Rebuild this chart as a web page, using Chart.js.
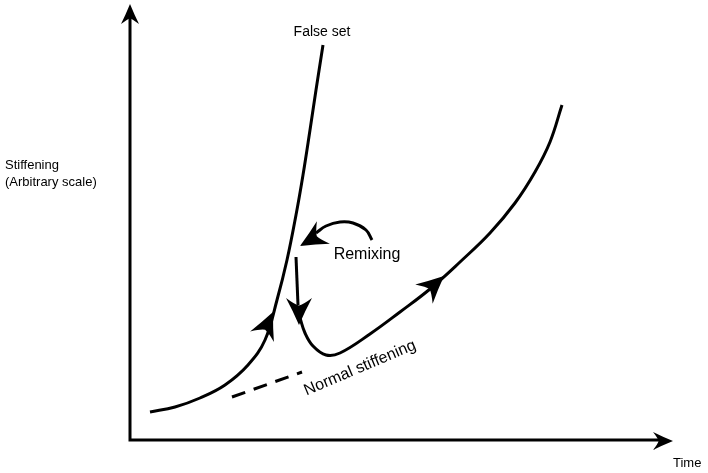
<!DOCTYPE html>
<html><head><meta charset="utf-8">
<script src="https://cdn.jsdelivr.net/npm/chart.js@4/dist/chart.umd.min.js"></script>
<style>html,body{margin:0;padding:0;background:#fff}#wrap{width:708px;height:473px;position:relative}</style>
</head><body><div id="wrap"><canvas id="c"></canvas></div>
<script>
// Arbitrary units (time on x, stiffening on y)
const axisX = [130, 130, 664];
const axisY = [458, 33, 33];
const falseSetX = [150, 175, 200, 225, 248, 265, 277, 287, 296, 303, 310, 316, 323];
const falseSetY = [61, 66, 75, 88, 108, 133, 173, 213, 258, 298, 343, 383, 428];
const dashX = [232, 302];
const dashY = [76, 101];
const dropX = [296, 298];
const dropY = [216, 168];
const normalX = [300, 305, 313, 326, 340, 370, 400, 430, 460, 490, 515, 535, 550, 562];
const normalY = [155, 140, 127, 118, 120, 139, 161, 184, 211, 240, 270, 301, 331, 368];
const remixX = [372, 366, 353, 340, 326, 316];
const remixY = [233, 243, 250, 251, 247, 240];
// arrow heads: tip position and direction (degrees, screen)
const arrowX = [130, 673, 273, 299, 300, 444];
const arrowY = [469, 32, 161, 148, 227, 197];
const arrowDir = [-90, 0, -66, 90, 150, -42];
const labels = ["False set", "Remixing", "Normal stiffening", "Stiffening", "(Arbitrary scale)", "Time"];
const labelX = [322, 367, 360, 5, 5, 673];
const labelY = [441, 218, 105, 308, 291, 10];

const pts = (xs, ys) => xs.map((x, i) => ({x, y: ys[i]}));
const base = {borderColor:'#000', pointRadius:0, fill:false, borderWidth:3};

const arrowPlugin = {
  id:'arrows',
  afterDatasetsDraw(chart){
    const {ctx, scales:{x, y}} = chart;
    ctx.save();
    ctx.fillStyle = '#000';
    arrowX.forEach((ax, i) => {
      const px = x.getPixelForValue(ax), py = y.getPixelForValue(arrowY[i]);
      const a = arrowDir[i] * Math.PI / 180;
      const L = i < 2 ? 20 : 27, W = i < 2 ? 9 : 13;
      ctx.save();
      ctx.translate(px, py); ctx.rotate(a);
      ctx.beginPath();
      ctx.moveTo(0, 0);
      ctx.quadraticCurveTo(-L*0.55, -W*0.5, -L, -W);
      ctx.quadraticCurveTo(-L*0.75, -W*0.3, -L*0.72, 0);
      ctx.quadraticCurveTo(-L*0.75, W*0.3, -L, W);
      ctx.quadraticCurveTo(-L*0.55, W*0.5, 0, 0);
      ctx.closePath(); ctx.fill();
      ctx.restore();
    });
    ctx.textBaseline = 'middle';
    const sizes = [14, 16, 16, 13, 13, 13];
    labels.forEach((t, i) => {
      const px = x.getPixelForValue(labelX[i]), py = y.getPixelForValue(labelY[i]);
      ctx.save();
      ctx.font = sizes[i] + 'px "Liberation Sans", Arial, sans-serif';
      ctx.translate(px, py);
      if (i === 2) { ctx.rotate(-23 * Math.PI / 180); ctx.textAlign = 'center'; }
      else if (i === 0 || i === 1) ctx.textAlign = 'center';
      else ctx.textAlign = 'left';
      ctx.fillText(t, 0, 0);
      ctx.restore();
    });
    ctx.restore();
  }
};

new Chart(document.getElementById('c'), {
  type:'line',
  data:{datasets:[
    {...base, data:pts(axisX, axisY), tension:0},
    {...base, data:pts(falseSetX, falseSetY), tension:0.4},
    {...base, data:pts(dashX, dashY), tension:0, borderDash:[14,9]},
    {...base, data:pts(dropX, dropY), tension:0},
    {...base, data:pts(normalX, normalY), tension:0.4},
    {...base, data:pts(remixX, remixY), tension:0.4}
  ]},
  options:{
    responsive:true, maintainAspectRatio:false, animation:false,
    layout:{padding:0},
    plugins:{legend:{display:false}, tooltip:{enabled:false}},
    scales:{
      x:{type:'linear', min:0, max:708, display:false},
      y:{type:'linear', min:0, max:473, display:false}
    }
  },
  plugins:[arrowPlugin]
});
</script></body></html>
